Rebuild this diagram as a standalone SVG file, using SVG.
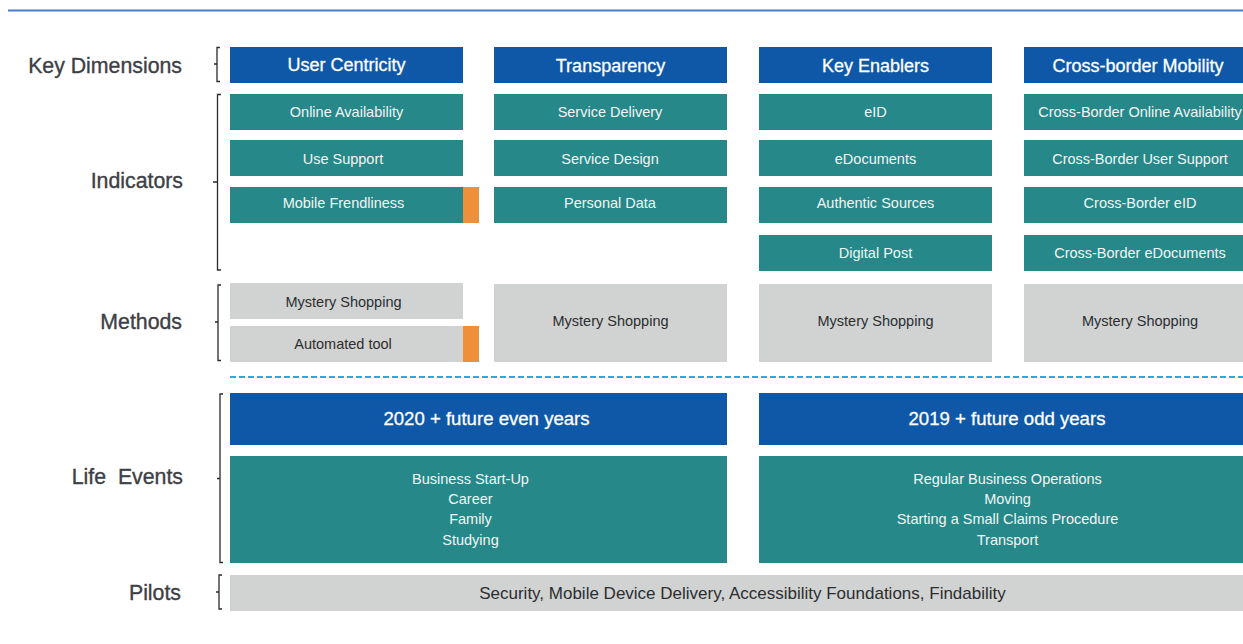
<svg xmlns="http://www.w3.org/2000/svg" width="1243" height="644" viewBox="0 0 1243 644">
  <style>
    .dim { fill: #0f58a8; }
    .ind { fill: #268888; }
    .met { fill: #d1d3d2; }
    .flag { fill: #ee8f3a; }
    .rowlabel { font-family: "Liberation Sans", Arial, sans-serif; font-size: 21.3px; fill: #3d4045; stroke: #3d4045; stroke-width: 0.35; text-anchor: end; }
    .head { font-family: "Liberation Sans", Arial, sans-serif; font-size: 18px; fill: #ffffff; stroke: #ffffff; stroke-width: 0.3; text-anchor: middle; }
    .lehead { font-size: 18.6px; }
    .itxt { font-family: "Liberation Sans", Arial, sans-serif; font-size: 14.5px; fill: #f2f5f5; text-anchor: middle; }
    .mtxt { font-family: "Liberation Sans", Arial, sans-serif; font-size: 14.5px; fill: #2b2d30; text-anchor: middle; }
    .ptxt { font-family: "Liberation Sans", Arial, sans-serif; font-size: 17px; fill: #2b2d30; text-anchor: middle; }
    .brace { fill: none; stroke: #2a2a2a; stroke-width: 1.3; }
  </style>

  <!-- header rule -->
  <line x1="8" y1="10.5" x2="1243" y2="10.5" stroke="#4a7cc7" stroke-width="2"/>

  <!-- row labels -->
  <g id="labels">
    <text class="rowlabel" x="182" y="73">Key Dimensions</text>
    <text class="rowlabel" x="183" y="188">Indicators</text>
    <text class="rowlabel" x="182" y="329">Methods</text>
    <text class="rowlabel" x="183" y="484" xml:space="preserve">Life  Events</text>
    <text class="rowlabel" x="181" y="600">Pilots</text>
  </g>

  <!-- brackets grouping each row -->
  <g id="brackets">
    <path class="brace" d="M220,47.5 H217 V81.5 H220 M217,64 H214"/>
    <path class="brace" d="M221,94.5 H217.5 V270 H221 M217.5,182 H213"/>
    <path class="brace" d="M221,285 H218 V360.5 H221 M218,322 H215"/>
    <path class="brace" d="M223,394 H220 V562.5 H223 M220,478.5 H217"/>
    <path class="brace" d="M222,575 H219 V609 H222 M219,592 H216"/>
  </g>

  <!-- key dimensions -->
  <g id="dim-user-centricity"><rect class="dim" x="230" y="47" width="233" height="36"/><text class="head" x="346.5" y="71">User Centricity</text></g>
  <g id="dim-transparency"><rect class="dim" x="494" y="47" width="233" height="36"/><text class="head" x="610.5" y="72">Transparency</text></g>
  <g id="dim-key-enablers"><rect class="dim" x="759" y="47" width="233" height="36"/><text class="head" x="875.5" y="72">Key Enablers</text></g>
  <g id="dim-cross-border"><rect class="dim" x="1024" y="47" width="233" height="36"/><text class="head" x="1138" y="72">Cross-border Mobility</text></g>

  <!-- indicators: user centricity -->
  <g id="ind-online-availability"><rect class="ind" x="230" y="94" width="233" height="36"/><text class="itxt" x="346.5" y="117">Online Availability</text></g>
  <g id="ind-use-support"><rect class="ind" x="230" y="140" width="233" height="36"/><text class="itxt" x="343" y="164">Use Support</text></g>
  <g id="ind-mobile"><rect class="ind" x="230" y="187" width="233" height="36"/><rect class="flag" x="463" y="187" width="16" height="36"/><text class="itxt" x="343.5" y="208">Mobile Frendliness</text></g>

  <!-- indicators: transparency -->
  <g id="ind-service-delivery"><rect class="ind" x="494" y="94" width="233" height="36"/><text class="itxt" x="610" y="117">Service Delivery</text></g>
  <g id="ind-service-design"><rect class="ind" x="494" y="140" width="233" height="36"/><text class="itxt" x="610" y="164">Service Design</text></g>
  <g id="ind-personal-data"><rect class="ind" x="494" y="187" width="233" height="36"/><text class="itxt" x="610" y="208">Personal Data</text></g>

  <!-- indicators: key enablers -->
  <g id="ind-eid"><rect class="ind" x="759" y="94" width="233" height="36"/><text class="itxt" x="875.5" y="117">eID</text></g>
  <g id="ind-edocuments"><rect class="ind" x="759" y="140" width="233" height="36"/><text class="itxt" x="875.5" y="164">eDocuments</text></g>
  <g id="ind-authentic-sources"><rect class="ind" x="759" y="187" width="233" height="36"/><text class="itxt" x="875.5" y="208">Authentic Sources</text></g>
  <g id="ind-digital-post"><rect class="ind" x="759" y="235" width="233" height="36"/><text class="itxt" x="875.5" y="258">Digital Post</text></g>

  <!-- indicators: cross-border mobility -->
  <g id="ind-cb-online"><rect class="ind" x="1024" y="94" width="233" height="36"/><text class="itxt" x="1140" y="117">Cross-Border Online Availability</text></g>
  <g id="ind-cb-support"><rect class="ind" x="1024" y="140" width="233" height="36"/><text class="itxt" x="1140" y="164">Cross-Border User Support</text></g>
  <g id="ind-cb-eid"><rect class="ind" x="1024" y="187" width="233" height="36"/><text class="itxt" x="1140" y="208">Cross-Border eID</text></g>
  <g id="ind-cb-edocuments"><rect class="ind" x="1024" y="235" width="233" height="36"/><text class="itxt" x="1140" y="258">Cross-Border eDocuments</text></g>

  <!-- methods -->
  <g id="met-uc-mystery"><rect class="met" x="230" y="283" width="233" height="36"/><text class="mtxt" x="343.5" y="307">Mystery Shopping</text></g>
  <g id="met-uc-automated"><rect class="met" x="230" y="326" width="233" height="36"/><rect class="flag" x="463" y="326" width="16" height="36"/><text class="mtxt" x="343" y="349">Automated tool</text></g>
  <g id="met-tr-mystery"><rect class="met" x="494" y="284" width="233" height="78"/><text class="mtxt" x="610.5" y="326">Mystery Shopping</text></g>
  <g id="met-ke-mystery"><rect class="met" x="759" y="284" width="233" height="78"/><text class="mtxt" x="875.5" y="326">Mystery Shopping</text></g>
  <g id="met-cb-mystery"><rect class="met" x="1024" y="284" width="233" height="78"/><text class="mtxt" x="1140" y="326">Mystery Shopping</text></g>

  <!-- separator between methods and life events -->
  <line x1="230" y1="377" x2="1243" y2="377" stroke="#2aa8e0" stroke-width="2" stroke-dasharray="6,3"/>

  <!-- life events -->
  <g id="le-even-head"><rect class="dim" x="230" y="393" width="497" height="52"/><text class="head lehead" x="486.5" y="425">2020 + future even years</text></g>
  <g id="le-odd-head"><rect class="dim" x="759" y="393" width="498" height="52"/><text class="head lehead" x="1007" y="425">2019 + future odd years</text></g>
  <g id="le-even-list"><rect class="ind" x="230" y="456" width="497" height="107"/>
    <text class="itxt" x="470.5" y="484">Business Start-Up</text>
    <text class="itxt" x="470.5" y="504">Career</text>
    <text class="itxt" x="470.5" y="524">Family</text>
    <text class="itxt" x="470.5" y="545">Studying</text>
  </g>
  <g id="le-odd-list"><rect class="ind" x="759" y="456" width="498" height="107"/>
    <text class="itxt" x="1007.5" y="484">Regular Business Operations</text>
    <text class="itxt" x="1007.5" y="504">Moving</text>
    <text class="itxt" x="1007.5" y="524">Starting a Small Claims Procedure</text>
    <text class="itxt" x="1007.5" y="545">Transport</text>
  </g>

  <!-- pilots -->
  <g id="pilots"><rect class="met" x="230" y="575" width="1027" height="36"/><text class="ptxt" x="742.5" y="599">Security, Mobile Device Delivery, Accessibility Foundations, Findability</text></g>
</svg>
